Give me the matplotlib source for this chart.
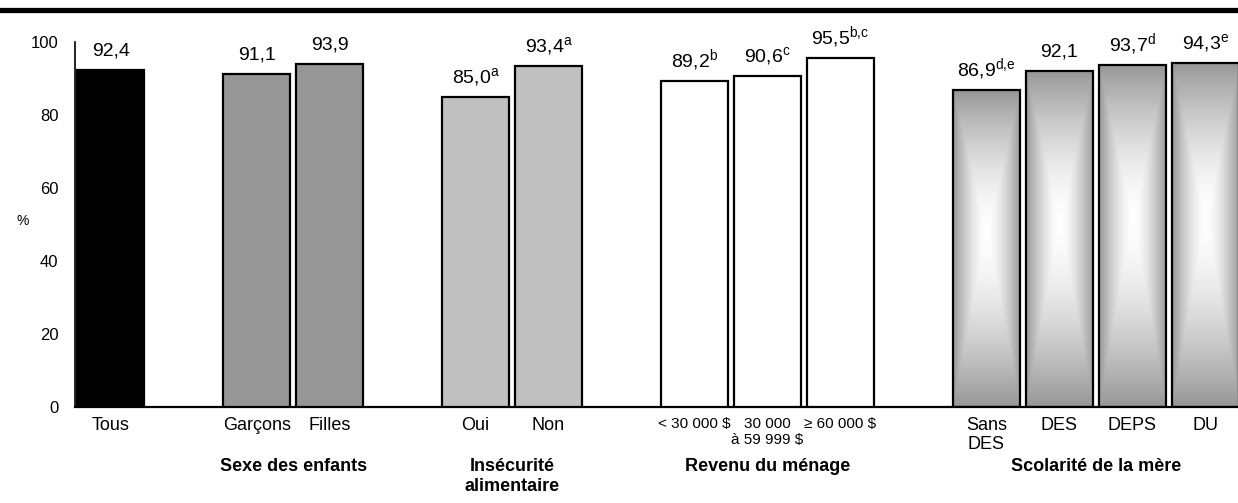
import matplotlib
matplotlib.use('Agg')
import matplotlib.pyplot as plt
import numpy as np
from matplotlib.lines import Line2D

plt.rcParams['font.family'] = ['Liberation Sans', 'DejaVu Sans']
plt.rcParams['mathtext.fontset'] = 'custom'
plt.rcParams['mathtext.rm'] = 'Liberation Sans'
plt.rcParams['mathtext.it'] = 'Liberation Sans:italic'
plt.rcParams['mathtext.bf'] = 'Liberation Sans:bold'

# données
tick_labels = ['Tous', 'Garçons', 'Filles', 'Oui', 'Non',
               '< 30 000 $', '30 000\nà 59 999 $', '≥ 60 000 $',
               'Sans\nDES', 'DES', 'DEPS', 'DU']
values = [92.4, 91.1, 93.9, 85.0, 93.4, 89.2, 90.6, 95.5, 86.9, 92.1, 93.7, 94.3]
sup = ['', '', '', 'a', 'a', 'b', 'c', 'b,c', 'd,e', '', 'd', 'e']
group_sizes = [1, 2, 2, 3, 4]
group_names = ['', 'Sexe des enfants', 'Insécurité\nalimentaire',
               'Revenu du ménage', 'Scolarité de la mère']
group_colors = ['black', '#969696', '#c0c0c0', 'white', 'none']

# positions : un espace vide entre les groupes
positions, colors, group_centers = [], [], []
x = 0
for size, col in zip(group_sizes, group_colors):
    xs = list(range(x, x + size))
    positions += xs
    colors += [col] * size
    group_centers.append(np.mean(xs))
    x += size + 1


def gradient_img(n=300, cy=0.55, gray=0.59):
    # dégradé rectangulaire "à partir du centre" (gris aux bords, blanc au centre)
    X, Y = np.meshgrid(np.linspace(-1, 1, n), np.linspace(0, 1, n))
    dy = np.where(Y > cy, (Y - cy) / (1 - cy), (cy - Y) / cy)
    d = np.maximum(np.abs(X), dy)
    v = gray + (1 - gray) * (1 - d ** 1.6)
    return np.dstack([v, v, v])


fig = plt.figure(figsize=(12.38, 5.03), dpi=100)
ax = fig.add_axes([75 / 1238, 1 - 407 / 503, 1 - 75 / 1238, (407 - 42) / 503])

bars = ax.bar(positions, values, width=0.92, color=colors, edgecolor='black',
              linewidth=1.6, zorder=3)

img = gradient_img()
n_last = group_sizes[-1]
for bar in bars.patches[-n_last:]:
    x0, y0 = bar.get_x(), bar.get_y()
    im = ax.imshow(img, extent=[x0, x0 + bar.get_width(), y0, y0 + bar.get_height()],
                   origin='lower', aspect='auto', zorder=2, interpolation='bilinear')
    im.set_clip_path(bar)

# étiquettes de valeurs
for xp, v, s in zip(positions, values, sup):
    txt = f'{v:.1f}'.replace('.', ',')
    if s:
        txt += r'$^{\mathrm{' + s.replace(',', '{,}') + '}}$'
    ax.annotate(txt, xy=(xp, v), xytext=(0, 10.5), textcoords='offset points',
                ha='center', va='baseline', fontsize=14)

ax.set_xlim(-0.49, 15.45)
ax.set_ylim(0, 100)
ax.set_yticks(range(0, 101, 20))
ax.tick_params(axis='both', length=0)
ax.tick_params(axis='y', labelsize=12, pad=12)
ax.set_xticks(positions)
ax.set_xticklabels(tick_labels, fontsize=13)
ax.tick_params(axis='x', pad=7)
for lab in ax.get_xticklabels()[5:8]:
    lab.set_fontsize(11)

for side in ['top', 'right']:
    ax.spines[side].set_visible(False)
ax.spines['left'].set_linewidth(1.2)
ax.spines['bottom'].set_linewidth(1.6)

ax.set_ylabel('%', rotation=0, fontsize=10)
ax.yaxis.set_label_coords(-0.045, 0.49)

# titres de groupes
for gx, name in zip(group_centers, group_names):
    if name:
        ax.text(gx, -0.14, name, transform=ax.get_xaxis_transform(),
                ha='center', va='top', fontsize=13, fontweight='bold')

# ligne noire épaisse en haut
fig.add_artist(Line2D([0, 1], [1 - 9.5 / 503] * 2, color='black', linewidth=3.8,
                      transform=fig.transFigure))

fig.savefig('out.png', dpi=100)
